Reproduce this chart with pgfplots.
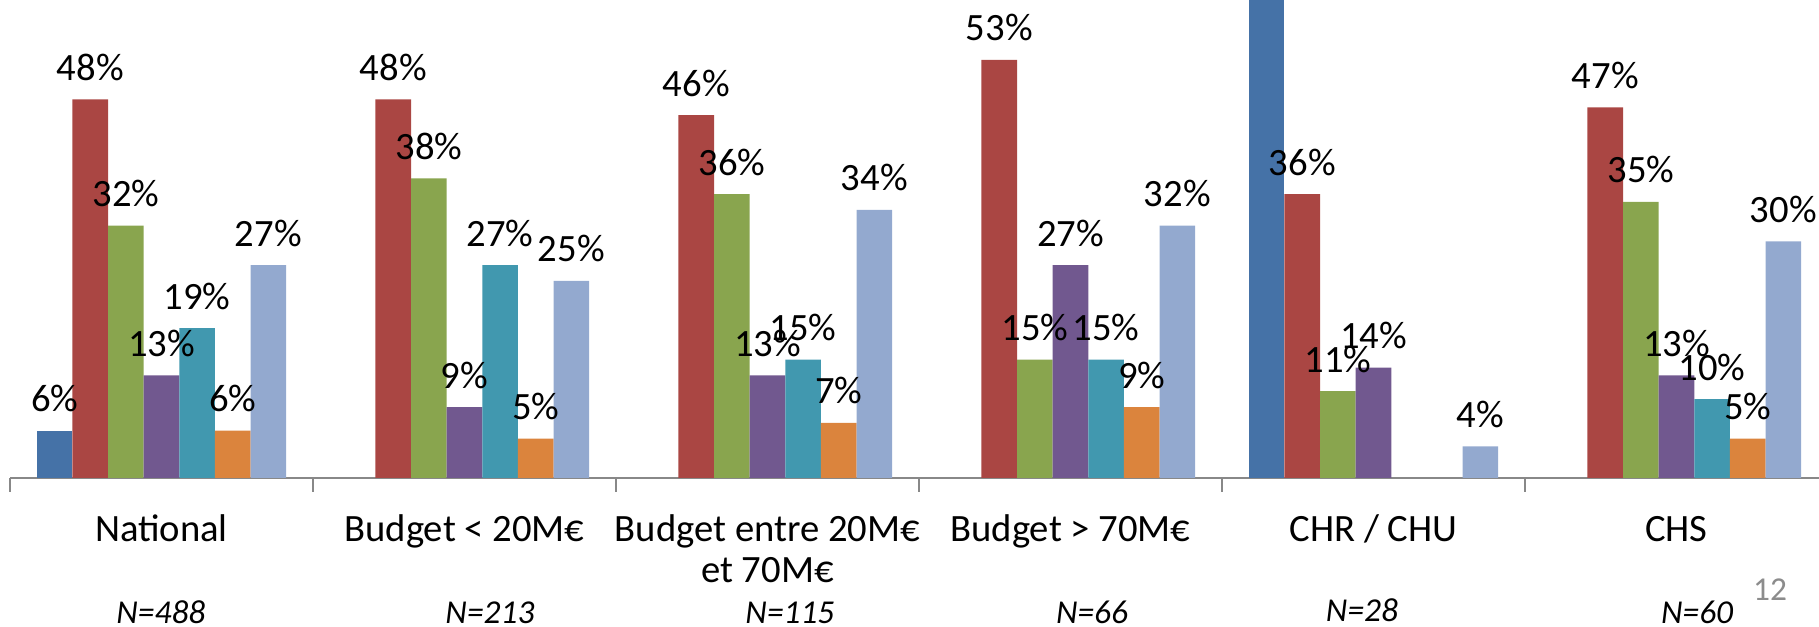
\documentclass[border=0pt]{standalone}
\usepackage{fontspec}
\setmainfont{Carlito}
\usepackage{pgfplots}
\pgfplotsset{compat=1.18}
\definecolor{cA}{HTML}{4572A7}
\definecolor{cB}{HTML}{AA4643}
\definecolor{cC}{HTML}{89A54E}
\definecolor{cD}{HTML}{71588F}
\definecolor{cE}{HTML}{4198AF}
\definecolor{cF}{HTML}{DB843D}
\definecolor{cG}{HTML}{93A9CF}
\definecolor{axgray}{HTML}{888888}
\definecolor{numgray}{HTML}{8C8C8C}
\begin{document}
\begin{tikzpicture}
\begin{axis}[
  at={(0,0)}, anchor=south west,
  scale only axis, width=181.8mm, height=47.8mm,
  xmin=-0.5, xmax=5.5, ymin=0, ymax=60.6,
  clip=false,
  axis x line=bottom, axis y line=none,
  x axis line style={-, draw=axgray, line width=0.25mm},
  xtick={0,1,2,3,4,5},
  xticklabels={National, Budget < 20M€, {Budget entre 20M€\\et 70M€}, Budget > 70M€, CHR / CHU, CHS},
  major tick length=0pt,
  minor xtick={-0.5,0.5,1.5,2.5,3.5,4.5,5.5},
  minor tick length=1.4mm,
  tick align=outside,
  every tick/.style={draw=axgray, line width=0.2mm},
  typeset ticklabels with strut,
  xticklabel style={font=\fontsize{11}{11.7}\selectfont, anchor=north, inner sep=0pt, yshift=-3.4mm, align=center, text=black},
  ytick=\empty,
  /pgf/number format/assume math mode=true,
  lbl/.style={nodes near coords={\pgfmathprintnumber{\pgfplotspointmeta}\%},
    nodes near coords style={font=\fontsize{11}{12.5}\selectfont, anchor=base, inner sep=0pt, yshift=1.9mm, text=black}},
  bw/.style={ybar, bar width=0.1175, draw=none, bar shift=#1,
    every node near coord/.append style={xshift={#1*30.3mm}}},
]
% series 1 (blue)
\addplot[bw=-0.3525, fill=cA, lbl] coordinates {(0,6)};
\addplot[bw=-0.3525, fill=cA] coordinates {(4,65)};
% series 2 (red)
\addplot[bw=-0.235, fill=cB, lbl] coordinates {(0,48) (1,48) (2,46) (3,53) (4,36) (5,47)};
% series 3 (green)
\addplot[bw=-0.1175, fill=cC, lbl] coordinates {(0,32) (1,38) (2,36) (3,15) (4,11) (5,35)};
% series 4 (purple)
\addplot[bw=0, fill=cD, lbl] coordinates {(0,13) (1,9) (2,13) (3,27) (4,14) (5,13)};
% series 5 (teal)
\addplot[bw=0.1175, fill=cE, lbl] coordinates {(0,19) (1,27) (2,15) (3,15) (5,10)};
% series 6 (orange)
\addplot[bw=0.235, fill=cF, lbl] coordinates {(0,6) (1,5) (2,7) (3,9) (5,5)};
% series 7 (light blue)
\addplot[bw=0.3525, fill=cG, lbl] coordinates {(0,27) (1,25) (2,34) (3,32) (4,4) (5,30)};
% sample sizes
\foreach \xx/\yy/\tt in {-0.002/-18.5/488, 1.084/-18.5/213, 2.074/-18.5/115, 3.071/-18.5/66, 3.962/-18.25/28, 5.068/-18.5/60}{
  \edef\temp{\noexpand\node[anchor=base, inner sep=0pt, font=\noexpand\fontsize{9.5}{11}\noexpand\itshape] at (axis cs:\xx,\yy) {N=\tt};}
  \temp
}
\node[anchor=center, inner sep=0pt, font=\fontsize{9.5}{11}\selectfont, text=numgray] at (axis cs:5.309,-14.2) {12};
\end{axis}
\pgfresetboundingbox
\useasboundingbox (-1mm,-14.9mm) rectangle (180.9mm,47.8mm);
\end{tikzpicture}
\end{document}
